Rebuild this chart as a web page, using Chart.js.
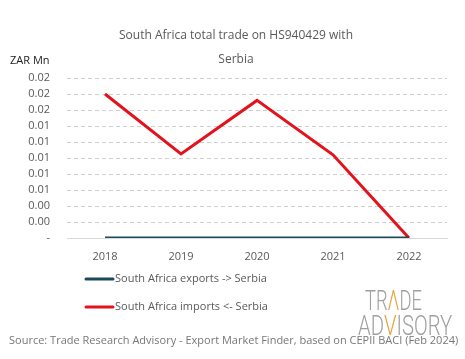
<!DOCTYPE html>
<html>
<head>
<meta charset="utf-8">
<script src="https://cdn.jsdelivr.net/npm/chart.js@4"></script>
<style>
  html, body { margin: 0; padding: 0; background: #fff; }
  #wrap { width: 465px; height: 359px; position: relative; }
</style>
</head>
<body>
<div id="wrap"><canvas id="c" width="465" height="359"></canvas></div>
<script>
const titleLines = ['South Africa total trade on HS940429 with', 'Serbia'];
const unitLabel = 'ZAR Mn';
const years = ['2018', '2019', '2020', '2021', '2022'];
const exportsLabel = 'South Africa exports -> Serbia';
const importsLabel = 'South Africa imports <- Serbia';
const exportsValues = [0, 0, 0, 0, 0];
const importsValues = [0.018, 0.0105, 0.0172, 0.0104, 0];
const yMax = 0.02;
const yStep = 0.002;
const sourceText = 'Source: Trade Research Advisory - Export Market Finder, based on CEPII BACI (Feb 2024)';

const FONT = '"Open Sans", "DejaVu Sans", sans-serif';
const GREY = '#595959';

const overlay = {
  id: 'overlay',
  afterDraw(chart) {
    const ctx = chart.ctx;
    ctx.save();
    ctx.fillStyle = GREY;
    ctx.textBaseline = 'middle';
    // title
    ctx.font = '12px ' + FONT;
    ctx.textAlign = 'center';
    ctx.fillText(titleLines[0], 236, 36);
    ctx.fillText(titleLines[1], 236, 60);
    // unit
    ctx.fillStyle = '#222';
    ctx.font = '11px ' + FONT;
    ctx.textAlign = 'left';
    ctx.fillText(unitLabel, 10, 61);
    // legend
    const items = chart.data.datasets;
    const ys = [279, 307];
    items.forEach((ds, i) => {
      ctx.strokeStyle = ds.borderColor;
      ctx.lineWidth = 3;
      ctx.lineCap = 'round';
      ctx.beginPath();
      ctx.moveTo(86, ys[i]);
      ctx.lineTo(113, ys[i]);
      ctx.stroke();
      ctx.fillStyle = GREY;
      ctx.font = '11px ' + FONT;
      ctx.textAlign = 'left';
      ctx.fillText(ds.label, 115, ys[i]);
    });
    // source
    ctx.fillStyle = '#777';
    ctx.font = '11px ' + FONT;
    ctx.textAlign = 'left';
    ctx.fillText(sourceText, 9, 341);
    // logo
    ctx.font = '300 27px Roboto, ' + FONT;
    ctx.textAlign = 'left';
    ctx.textBaseline = 'alphabetic';
    const drawParts = (parts, x, y, targetW) => {
      const full = parts.map(p => p[0]).join('');
      const w = ctx.measureText(full).width;
      const sx = targetW / w;
      ctx.save();
      ctx.translate(x, y);
      ctx.scale(sx, 1);
      let cx = 0;
      parts.forEach(p => {
        ctx.fillStyle = p[1];
        ctx.fillText(p[0], cx, 0);
        cx += ctx.measureText(p[0]).width;
      });
      ctx.restore();
    };
    drawParts([['TR', '#a0a0a0'], ['Λ', '#e8a33c'], ['DE', '#a0a0a0']], 365, 310, 57);
    drawParts([['AD', '#a0a0a0'], ['V', '#e8a33c'], ['ISORY', '#a0a0a0']], 358, 335, 94);
    ctx.restore();
  }
};

new Chart(document.getElementById('c'), {
  type: 'line',
  data: {
    labels: years,
    datasets: [
      { label: exportsLabel, data: exportsValues, borderColor: '#1b4a5c', backgroundColor: '#1b4a5c',
        borderWidth: 3, pointRadius: 0, tension: 0 },
      { label: importsLabel, data: importsValues, borderColor: '#e3121b', backgroundColor: '#e3121b',
        borderWidth: 3, pointRadius: 0, tension: 0 }
    ]
  },
  options: {
    responsive: false,
    animation: false,
    layout: { padding: { top: 78, left: 0, right: 18, bottom: 0 } },
    plugins: { legend: { display: false }, tooltip: { enabled: false }, title: { display: false } },
    scales: {
      x: {
        offset: true,
        grid: { display: false, drawTicks: false },
        border: { display: true, color: '#d9d9d9', width: 1 },
        ticks: { color: GREY, font: { family: FONT, size: 11 }, padding: 12, maxRotation: 0 },
        afterFit(s) { s.height = 121; }
      },
      y: {
        min: 0, max: yMax,
        grid: {
          drawTicks: false,
          color: (c) => c.tick && c.tick.value === 0 ? 'rgba(0,0,0,0)' : '#cfcfcf',
          lineWidth: 1
        },
        border: { display: false, dash: [4, 3] },
        ticks: {
          stepSize: yStep,
          autoSkip: false,
          maxTicksLimit: 20,
          color: GREY,
          font: { family: FONT, size: 11 },
          padding: 17,
          callback: (v) => v === 0 ? '-' : v.toFixed(2)
        },
        afterFit(s) { s.width = 67; }
      }
    }
  },
  plugins: [overlay]
});
</script>
</body>
</html>
